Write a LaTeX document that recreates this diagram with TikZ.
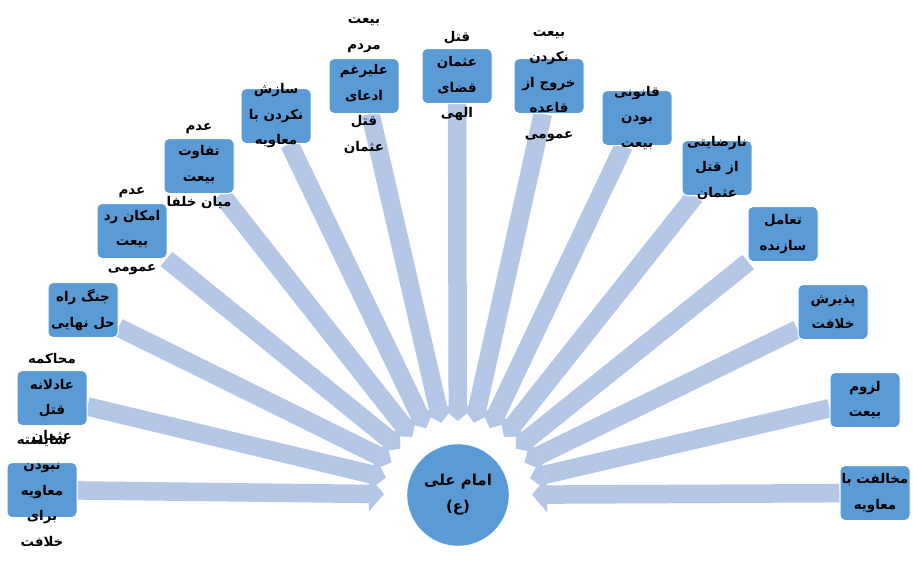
\documentclass[tikz,border=0pt]{standalone}
\usepackage{fontspec}
\newfontfamily\ar[Script=Arabic]{DejaVu Sans}
\TeXXeTstate=1
\usetikzlibrary{arrows.meta,calc}
\definecolor{boxblue}{RGB}{91,155,213}
\definecolor{arrblue}{RGB}{180,199,231}
\pgfdeclarelayer{bg}
\pgfsetlayers{bg,main}
\newcommand{\RL}[1]{\beginR #1\endR}
\begin{document}
\begin{tikzpicture}[x=1pt,y=-1pt,
  boxshape/.style={draw=white,line width=1pt,fill=boxblue,rounded corners=5pt,minimum width=70pt,minimum height=55pt,inner sep=0pt},
  boxtext/.style={font=\ar\bfseries\fontsize{13.4}{25.5}\selectfont,align=center,text=black,inner sep=0pt},
  bigarrow/.style={draw=arrblue,line width=18.5pt,-{Triangle[width=35pt,length=15pt,line width=0pt]}}]
\useasboundingbox (0,0) rectangle (913,563);
% central circle
\node[circle,fill=boxblue,draw=white,minimum size=102pt,inner sep=0pt] (c) at (458,495) {};
\node[boxtext,font=\ar\bfseries\fontsize{15}{26}\selectfont] (ct) at (c.center) {\RL{امام علی}\\\RL{(ع)}};
% boxes
\node[boxshape] (b1) at (42,490) {};
\node[boxshape] (b2) at (52,398) {};
\node[boxshape] (b3) at (83,310) {};
\node[boxshape] (b4) at (132,231) {};
\node[boxshape] (b5) at (199,166) {};
\node[boxshape] (b6) at (276,116) {};
\node[boxshape] (b7) at (364,86) {};
\node[boxshape] (b8) at (457,76) {};
\node[boxshape] (b9) at (549,86) {};
\node[boxshape] (b10) at (637,118) {};
\node[boxshape] (b11) at (717,168) {};
\node[boxshape] (b12) at (783,234) {};
\node[boxshape] (b13) at (833,312) {};
\node[boxshape] (b14) at (865,400) {};
\node[boxshape] (b15) at (875,493) {};
% arrows
\begin{pgfonlayer}{bg}
\foreach \b in {b1,b2,b3,b4,b5,b6,b7,b8,b9,b10,b11,b12,b13,b14,b15}
  \draw[bigarrow] (\b) -- ($(c)!74pt!(\b)$);
\end{pgfonlayer}
% texts
\node[boxtext] (t1) at (b1.center) {\RL{شایسته}\\\RL{نبودن}\\\RL{معاویه}\\\RL{برای}\\\RL{خلافت}};
\node[boxtext] (t2) at (b2.center) {\RL{محاکمه}\\\RL{عادلانه}\\\RL{قتل}\\\RL{عثمان}};
\node[boxtext] (t3) at (b3.center) {\RL{جنگ راه}\\\RL{حل نهایی}};
\node[boxtext] (t4) at (b4.center) {\RL{عدم}\\\RL{امکان رد}\\\RL{بیعت}\\\RL{عمومی}};
\node[boxtext] (t5) at (b5.center) {\RL{عدم}\\\RL{تفاوت}\\\RL{بیعت}\\\RL{میان خلفا}};
\node[boxtext] (t6) at (b6.center) {\RL{سازش}\\\RL{نکردن با}\\\RL{معاویه}};
\node[boxtext] (t7) at (b7.center) {\RL{بیعت}\\\RL{مردم}\\\RL{علیرغم}\\\RL{ادعای}\\\RL{قتل}\\\RL{عثمان}};
\node[boxtext] (t8) at (b8.center) {\RL{قتل}\\\RL{عثمان}\\\RL{قضای}\\\RL{الهی}};
\node[boxtext] (t9) at (b9.center) {\RL{بیعت}\\\RL{نکردن}\\\RL{خروج از}\\\RL{قاعده}\\\RL{عمومی}};
\node[boxtext] (t10) at (b10.center) {\RL{قانونی}\\\RL{بودن}\\\RL{بیعت}};
\node[boxtext] (t11) at (b11.center) {\RL{نارضایتی}\\\RL{از قتل}\\\RL{عثمان}};
\node[boxtext] (t12) at (b12.center) {\RL{تعامل}\\\RL{سازنده}};
\node[boxtext] (t13) at (b13.center) {\RL{پذیرش}\\\RL{خلافت}};
\node[boxtext] (t14) at (b14.center) {\RL{لزوم}\\\RL{بیعت}};
\node[boxtext] (t15) at (b15.center) {\RL{مخالفت با}\\\RL{معاویه}};
\end{tikzpicture}
\end{document}
